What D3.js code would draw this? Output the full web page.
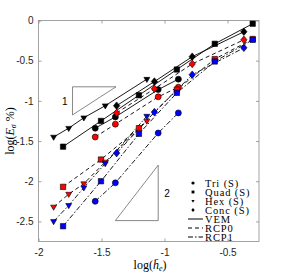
<!DOCTYPE html>
<html>
<head>
<meta charset="utf-8">
<script src="https://cdn.jsdelivr.net/npm/d3@7"></script>
<style>
body { margin: 0; background: #fff; }
.tick text { font-family: "Liberation Sans", Arial, sans-serif; font-size: 10px; fill: #262626; }
.lab { font-family: "Liberation Serif", serif; font-size: 12px; fill: #000; }
.leg { font-family: "Liberation Serif", serif; font-size: 10.5px; letter-spacing: 0.9px; fill: #000; }
</style>
</head>
<body>
<div id="chart-area"></div>
<script>
// mesh sizes, log10 of mean element size
var triX = [-1.55, -1.39, -1.05, -0.89];
var quadX = [-1.805, -1.504, -1.203, -0.902, -0.601, -0.30];
var hexX = [-1.88, -1.76, -1.64, -1.47, -1.14];
var concX = [-1.38, -1.08, -0.78, -0.37];

// log10 of stress error, one array per method
var triVEM = [-1.34, -1.20, -0.86, -0.73];
var triRCP0 = [-1.45, -1.29, -0.95, -0.83];
var triRCP1 = [-2.25, -2.02, -1.40, -1.15];

var quadVEM = [-1.57, -1.25, -0.93, -0.61, -0.29, -0.04];
var quadRCP0 = [-2.07, -1.73, -1.34, -0.86, -0.48, -0.23];
var quadRCP1 = [-2.56, -2.00, -1.41, -0.90, -0.51, -0.24];

var hexVEM = [-1.45, -1.34, -1.21, -1.06, -0.73];
var hexRCP0 = [-2.32, -2.16, -2.03, -1.76, -1.25];
var hexRCP1 = [-2.50, -2.30, -2.08, -1.78, -1.19];

var concVEM = [-1.06, -0.76, -0.45, -0.14];
var concRCP0 = [-1.15, -0.85, -0.54, -0.24];
var concRCP1 = [-1.65, -1.14, -0.675, -0.34];

var xTicks = [-2, -1.5, -1, -0.5];
var yTicks = [0, -0.5, -1, -1.5, -2, -2.5];

// slope triangles (data coords)
var slope1 = [[-1.73, -0.825], [-1.385, -0.825], [-1.73, -1.175]];
var slope2 = [[-1.39, -2.49], [-1.05, -2.49], [-1.05, -1.80]];

var meshNames = ["Tri (S)", "Quad (S)", "Hex (S)", "Conc (S)"];
var methodNames = ["VEM", "RCP0", "RCP1"];

var width = 287, height = 276;
var svg = d3.select("#chart-area").append("svg")
	.attr("width", width).attr("height", height);

var x = d3.scaleLinear().domain([-2, -0.25]).range([38.5, 259]);
var y = d3.scaleLinear().domain([0, -2.75]).range([20.5, 241.5]);

var symbols = [d3.symbolCircle, d3.symbolSquare, "tri", "dia"];
var fills = ["#000", "#ff0000", "#0000ff"];
var dashes = [null, "4,3", "5,2,1.5,2"];

function markerPath(k, size) {
	if (k == 2) {
		var s = size;
		return "M" + (-s) + "," + (-s * 0.6) + "L" + s + "," + (-s * 0.6) + "L0," + (s * 1.1) + "Z";
	}
	if (k == 3) {
		var s = size * 1.05;
		return "M0," + (-s * 1.2) + "L" + s + ",0L0," + (s * 1.2) + "L" + (-s) + ",0Z";
	}
	var area = k == 0 ? Math.PI * size * size : 4 * size * size * 0.8;
	return d3.symbol().type(symbols[k]).size(area)();
}

var series = [
	{mesh: 0, xs: triX, vals: [triVEM, triRCP0, triRCP1]},
	{mesh: 1, xs: quadX, vals: [quadVEM, quadRCP0, quadRCP1]},
	{mesh: 2, xs: hexX, vals: [hexVEM, hexRCP0, hexRCP1]},
	{mesh: 3, xs: concX, vals: [concVEM, concRCP0, concRCP1]}
];

// axes box
svg.append("rect")
	.attr("x", x(-2)).attr("y", y(0))
	.attr("width", x(-0.25) - x(-2)).attr("height", y(-2.75) - y(0))
	.attr("fill", "none").attr("stroke", "#8c8c8c").attr("stroke-width", 0.8);

var fmt = function(d) { return d3.format("")(d).replace("\u2212", "-"); };
var xAxis = d3.axisBottom(x).tickValues(xTicks).tickSize(-3).tickPadding(7).tickFormat(fmt);
var yAxis = d3.axisLeft(y).tickValues(yTicks).tickSize(-3).tickPadding(5).tickFormat(fmt);

svg.append("g").attr("transform", "translate(0," + y(-2.75) + ")").call(xAxis);
svg.append("g").attr("transform", "translate(" + x(-2) + ",0)").call(yAxis);
svg.append("g").attr("transform", "translate(0," + y(0) + ")")
	.call(d3.axisTop(x).tickValues(xTicks).tickSize(-3).tickFormat(""));
svg.append("g").attr("transform", "translate(" + x(-0.25) + ",0)")
	.call(d3.axisRight(y).tickValues(yTicks).tickSize(-3).tickFormat(""));
svg.selectAll(".domain").remove();
svg.selectAll(".tick line").attr("stroke", "#8c8c8c").attr("stroke-width", 0.8);

// slope triangles
var tri = d3.line().x(function(d) { return x(d[0]); }).y(function(d) { return y(d[1]); });
[slope1, slope2].forEach(function(t) {
	svg.append("path").attr("d", tri(t) + "Z")
		.attr("fill", "none").attr("stroke", "#555").attr("stroke-width", 0.7);
});
svg.append("text")
	.attr("x", x(-1.73) - 5).attr("y", y(-1.0) + 4).attr("text-anchor", "end")
	.style("font-family", "Liberation Sans, Arial, sans-serif").style("font-size", "10px").text("1");
svg.append("text")
	.attr("x", x(-1.05) + 6).attr("y", y(-2.15) + 4)
	.style("font-family", "Liberation Sans, Arial, sans-serif").style("font-size", "10px").text("2");

// lines
var line = d3.line();
series.forEach(function(s) {
	s.vals.forEach(function(v, m) {
		var pts = s.xs.map(function(xv, i) { return [x(xv), y(v[i])]; });
		svg.append("path").attr("d", line(pts))
			.attr("fill", "none").attr("stroke", "#000").attr("stroke-width", 0.9)
			.attr("stroke-dasharray", dashes[m]);
	});
});

// markers
series.forEach(function(s) {
	s.vals.forEach(function(v, m) {
		svg.append("g").selectAll("path")
			.data(s.xs.map(function(xv, i) { return [xv, v[i]]; }))
			.enter().append("path")
			.attr("transform", function(d) { return "translate(" + x(d[0]) + "," + y(d[1]) + ")"; })
			.attr("d", markerPath(s.mesh, 3))
			.attr("fill", fills[m]).attr("stroke", "#000").attr("stroke-width", 0.6);
	});
});

// legend
var lx = 193, ly = 183, step = 9;
meshNames.forEach(function(n, i) {
	svg.append("path")
		.attr("transform", "translate(" + lx + "," + (ly + i * step) + ")")
		.attr("d", markerPath(i, 1.6)).attr("fill", "#000");
	svg.append("text").attr("class", "leg")
		.attr("x", lx + 12).attr("y", ly + i * step + 3.5).text(n);
});
methodNames.forEach(function(n, i) {
	var yy = ly + (i + 4) * step;
	svg.append("line").attr("x1", lx - 5).attr("x2", lx + 10)
		.attr("y1", yy).attr("y2", yy)
		.attr("stroke", "#000").attr("stroke-width", 1).attr("stroke-dasharray", dashes[i]);
	svg.append("text").attr("class", "leg")
		.attr("x", lx + 12).attr("y", yy + 3.5).text(n);
});

// axis labels
var xl = svg.append("text").attr("class", "lab")
	.attr("x", 150).attr("y", 269).attr("text-anchor", "middle");
xl.append("tspan").text("log(");
xl.append("tspan").style("font-style", "italic").text("h\u0304");
xl.append("tspan").attr("dy", 2).style("font-size", "8px").style("font-style", "italic").text("e");
xl.append("tspan").attr("dy", -2).text(")");

var yl = svg.append("text").attr("class", "lab")
	.attr("transform", "translate(14,131) rotate(-90)").attr("text-anchor", "middle");
yl.append("tspan").text("log(");
yl.append("tspan").style("font-style", "italic").text("E");
yl.append("tspan").attr("dy", 2).style("font-size", "8px").style("font-style", "italic").text("\u03c3");
yl.append("tspan").attr("dy", -2).text(" %)");
</script>
</body>
</html>
